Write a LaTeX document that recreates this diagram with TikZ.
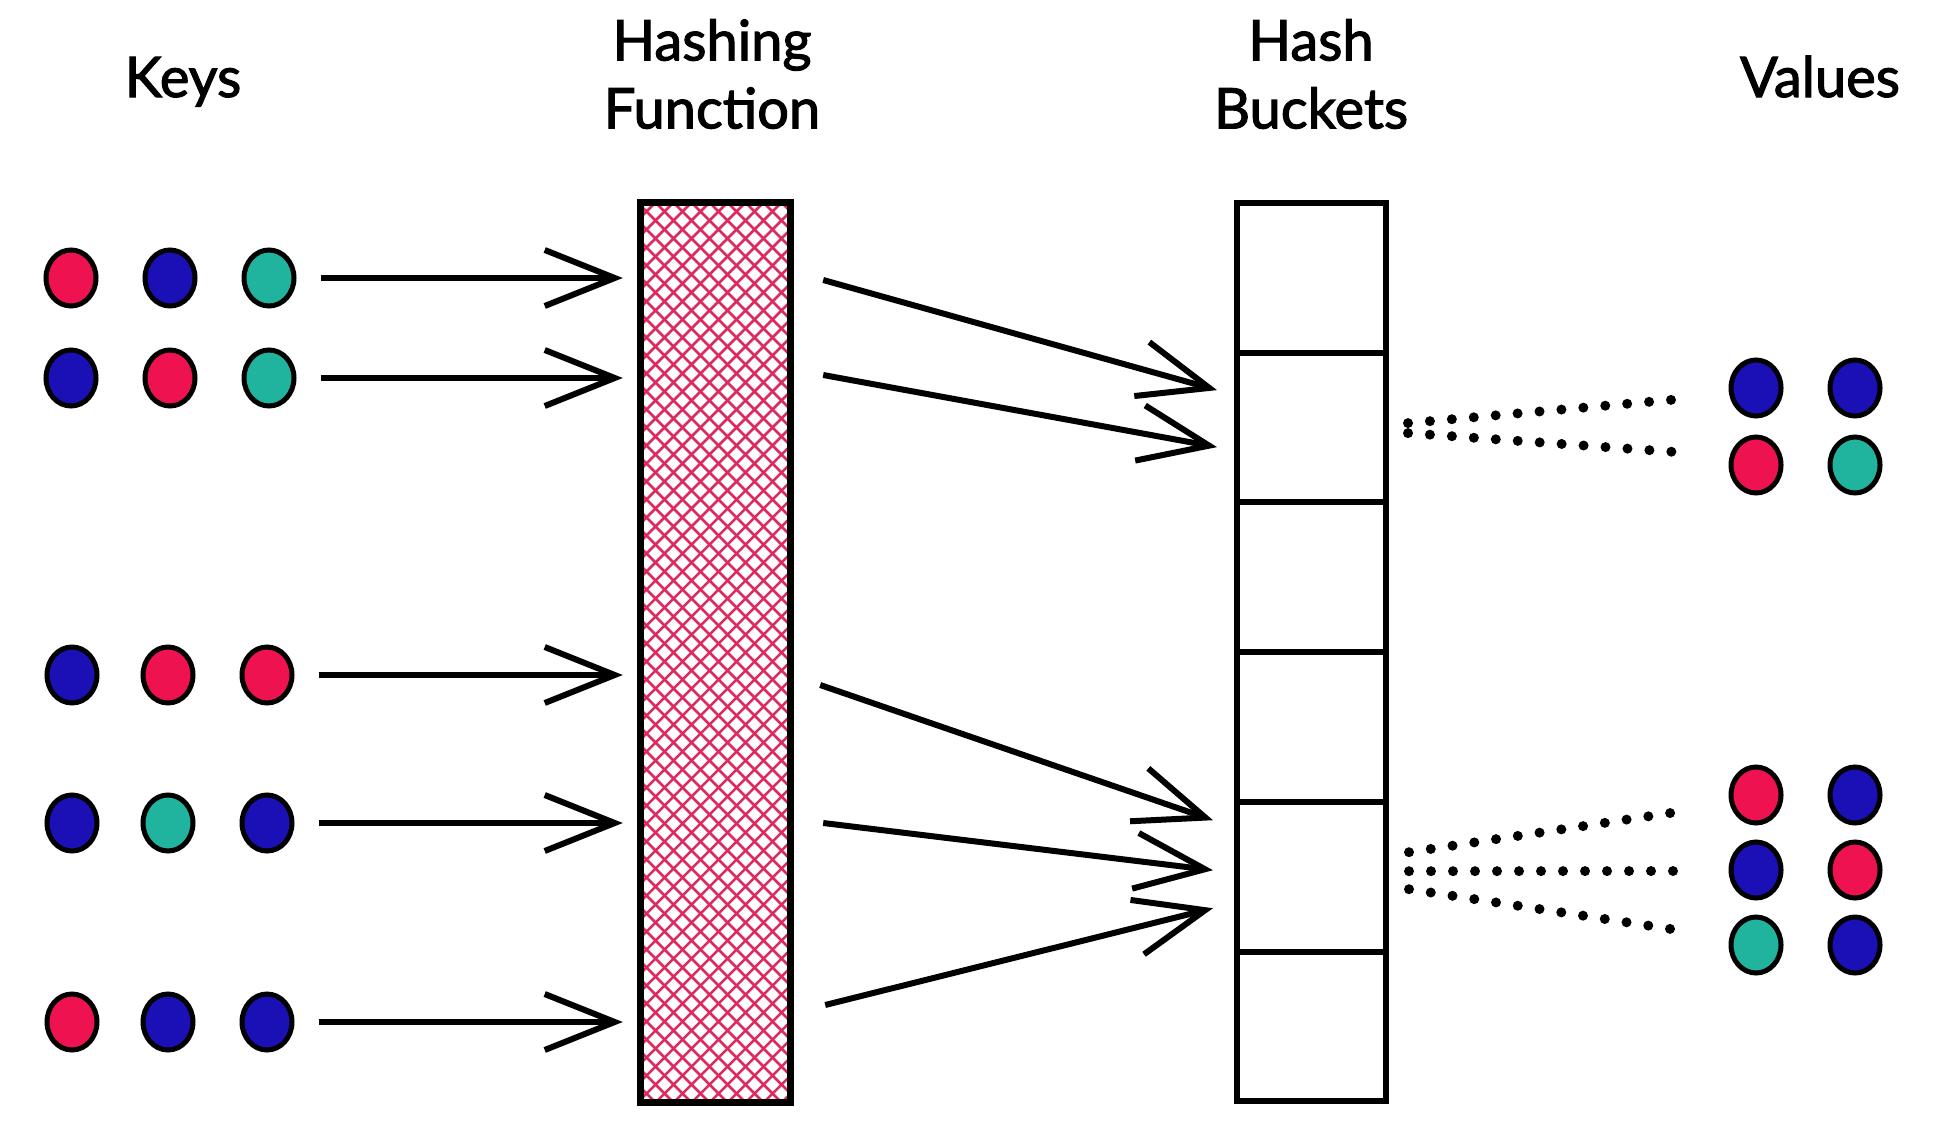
\documentclass[tikz,border=0pt]{standalone}
\usepackage{fontspec}
\setmainfont{Lato}
\newfontfamily\titlefont{Lato}[FakeBold=2]
\usetikzlibrary{positioning, shapes.geometric, arrows.meta, calc}
\definecolor{kred}{HTML}{EE1250}
\definecolor{kblue}{HTML}{1A10B5}
\definecolor{kteal}{HTML}{20B39E}
\definecolor{hatch}{HTML}{DC2A5E}

\begin{document}
\begin{tikzpicture}[x=1pt, y=-1pt,
        ball/.style={ellipse, draw, line width=5pt, minimum width=50pt, minimum height=56pt, inner sep=0pt},
        rball/.style={ball, fill=kred},
        bball/.style={ball, fill=kblue},
        tball/.style={ball, fill=kteal},
        bucket/.style={draw, line width=6pt, minimum width=149pt, minimum height=149.7pt, inner sep=0pt, outer sep=0pt},
        hatchline/.style={hatch, line width=2.5pt},
        arr/.style={line width=6pt, -{Straight Barb[length=70pt,width=56pt]}},
        dotline/.style={line width=10pt, line cap=round, dash pattern=on 0pt off 22pt},
        title/.style={font=\titlefont\fontsize{56}{68}\selectfont, align=center}]
        \useasboundingbox (0,0) rectangle (1942,1140);

        % Titles
        \node[title, anchor=base] (tkeys) at (183, 97) {Keys};
        \node[title] (thash) at (712, 74) {Hashing\\Function};
        \node[title] (tbuck) at (1311, 74) {Hash\\Buckets};
        \node[title, anchor=base] (tvals) at (1820, 97) {Values};

        % Hashing function (cross hatched) and buckets
        \node[minimum width=149pt, minimum height=899pt, inner sep=0pt] (hash) at (715.5, 652.5) {};
        \begin{scope}
            \clip (hash.north west) rectangle (hash.south east);
            \foreach \s in {-280,-262,...,800} {
                \draw[hatchline] (\s, 1102) -- ++(899, -899);
                \draw[hatchline] (\s, 203) -- ++(899, 899);
            }
        \end{scope}
        \draw[line width=7pt] (hash.north west) rectangle (hash.south east);
        \node[bucket] (b1) at (1311.5, 277.9) {};
        \node[bucket, below=0pt of b1] (b2) {};
        \node[bucket, below=0pt of b2] (b3) {};
        \node[bucket, below=0pt of b3] (b4) {};
        \node[bucket, below=0pt of b4] (b5) {};
        \node[bucket, below=0pt of b5] (b6) {};

        % Keys
        \node[rball] (k11) at (71, 278) {};
        \node[bball] (k12) at (170, 278) {};
        \node[tball] (k13) at (269, 278) {};
        \node[bball] (k21) at (71, 378) {};
        \node[rball] (k22) at (170, 378) {};
        \node[tball] (k23) at (269, 378) {};
        \node[bball] (k31) at (72, 675) {};
        \node[rball] (k32) at (168, 675) {};
        \node[rball] (k33) at (267, 675) {};
        \node[bball] (k41) at (72, 823) {};
        \node[tball] (k42) at (168, 823) {};
        \node[bball] (k43) at (267, 823) {};
        \node[rball] (k51) at (72, 1022) {};
        \node[bball] (k52) at (168, 1022) {};
        \node[bball] (k53) at (267, 1022) {};

        % Values
        \node[bball] (v11) at (1756, 388) {};
        \node[bball] (v12) at (1855, 388) {};
        \node[rball] (v21) at (1756, 465) {};
        \node[tball] (v22) at (1855, 465) {};
        \node[rball] (v31) at (1756, 795) {};
        \node[bball] (v32) at (1855, 795) {};
        \node[bball] (v41) at (1756, 870) {};
        \node[rball] (v42) at (1855, 870) {};
        \node[tball] (v51) at (1756, 945) {};
        \node[bball] (v52) at (1855, 945) {};

        % Keys into the hashing function
        \draw[arr] ($(k13.east)+(24,0)$) -- ($(hash.west |- k13)+(-18,0)$);
        \draw[arr] ($(k23.east)+(24,0)$) -- ($(hash.west |- k23)+(-18,0)$);
        \draw[arr] ($(k33.east)+(24,0)$) -- ($(hash.west |- k33)+(-18,0)$);
        \draw[arr] ($(k43.east)+(24,0)$) -- ($(hash.west |- k43)+(-18,0)$);
        \draw[arr] ($(k53.east)+(24,0)$) -- ($(hash.west |- k53)+(-18,0)$);

        % Hashing function into the buckets
        \draw[arr] ($(hash.east |- k13)+(33,2)$) -- ($(b2.west)+(-20,-37.5)$);
        \draw[arr] ($(hash.east |- k23)+(33,-3)$) -- ($(b2.west)+(-20,19.5)$);
        \draw[arr] ($(hash.east |- k33)+(30,10)$) -- ($(b5.west)+(-24,-56.5)$);
        \draw[arr] ($(hash.east |- k43)+(33,0)$) -- ($(b5.west)+(-24,-6.5)$);
        \draw[arr] ($(hash.east |- k53)+(35,-17)$) -- ($(b5.west)+(-24,31.5)$);

        % Buckets to values
        \draw[dotline] ($(b2.east)+(22,-4.5)$) -- ($(v11.west)+(-36,10)$);
        \draw[dotline] ($(b2.east)+(22,5.5)$) -- ($(v21.west)+(-39,-12)$);
        \draw[dotline] ($(b5.east)+(23,-24.5)$) -- ($(v31.west)+(-38,15)$);
        \draw[dotline] ($(b5.east)+(23,-5.5)$) -- ($(v41.west)+(-38,1)$);
        \draw[dotline] ($(b5.east)+(23,12.5)$) -- ($(v51.west)+(-38,-13)$);
    \end{tikzpicture}
\end{document}
